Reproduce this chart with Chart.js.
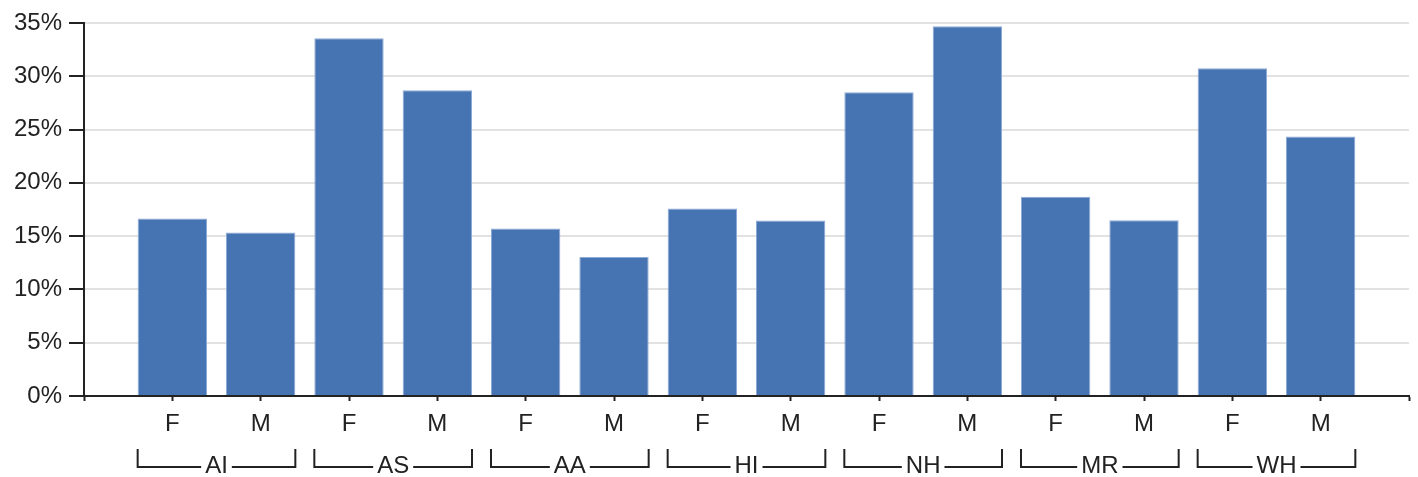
<!DOCTYPE html>
<html>
<head>
<meta charset="utf-8">
<script src="https://cdn.jsdelivr.net/npm/chart.js@4"></script>
<style>
  html, body { margin: 0; padding: 0; background: #fff; }
  canvas { display: block; }
</style>
</head>
<body>
<canvas id="chart" width="1418" height="477"></canvas>
<script>
// groups and the F/M pair inside each one
const groups = ["AI", "AS", "AA", "HI", "NH", "MR", "WH"];
const sexes = ["F", "M"];
// percent values, F then M for each group
const values = [16.65, 15.34, 33.57, 28.7, 15.71, 13.05, 17.59, 16.47, 28.5, 34.7, 18.7, 16.5, 30.75, 24.36];
const yTicks = [0, 5, 10, 15, 20, 25, 30, 35];

const FONT = "'Liberation Sans', Arial, sans-serif";
const INK = "#222";

// empty slot on each end so the axis runs past the first and last bar
const labels = [""];
const data = [null];
groups.forEach((g, gi) => {
  sexes.forEach((s, si) => {
    labels.push(s);
    data.push(values[gi * sexes.length + si]);
  });
});
labels.push("");
data.push(null);

// brackets with the group name under each F/M pair
const groupBrackets = {
  id: "groupBrackets",
  afterDraw(chart) {
    const ctx = chart.ctx;
    const bars = chart.getDatasetMeta(0).data;
    const yTop = 449, yBot = 467;
    ctx.save();
    ctx.strokeStyle = INK;
    ctx.lineWidth = 2;
    ctx.fillStyle = INK;
    ctx.font = "24px " + FONT;
    ctx.textAlign = "center";
    ctx.textBaseline = "middle";
    groups.forEach((g, gi) => {
      const first = bars[1 + gi * 2];
      const last = bars[2 + gi * 2];
      const x1 = first.x - first.width / 2;
      const x2 = last.x + last.width / 2;
      const mid = (first.x + last.x) / 2;
      const half = ctx.measureText(g).width / 2 + 4;
      ctx.beginPath();
      ctx.moveTo(x1, yTop);
      ctx.lineTo(x1, yBot);
      ctx.lineTo(mid - half, yBot);
      ctx.moveTo(mid + half, yBot);
      ctx.lineTo(x2, yBot);
      ctx.lineTo(x2, yTop);
      ctx.stroke();
      ctx.fillText(g, mid, 466);
    });
    ctx.restore();
  }
};

new Chart(document.getElementById("chart"), {
  type: "bar",
  data: {
    labels: labels,
    datasets: [{
      data: data,
      backgroundColor: "#4674b2",
      borderColor: "#8eaad6",
      borderWidth: 1,
      barPercentage: 0.785,
      categoryPercentage: 1
    }]
  },
  options: {
    responsive: false,
    animation: false,
    devicePixelRatio: 1,
    layout: { padding: { top: 23, right: 7, left: 0, bottom: 0 } },
    plugins: {
      legend: { display: false },
      tooltip: { enabled: false }
    },
    scales: {
      x: {
        offset: false,
        afterFit(scale) { scale.height = 81; },
        grid: {
          offset: false,
          drawOnChartArea: false,
          drawTicks: true,
          tickLength: 5,
          tickWidth: 2,
          tickColor: INK
        },
        border: { color: INK, width: 2 },
        ticks: {
          color: INK,
          font: { family: FONT, size: 24 },
          padding: 9,
          maxRotation: 0,
          autoSkip: false
        }
      },
      y: {
        min: yTicks[0],
        max: yTicks[yTicks.length - 1],
        afterFit(scale) { scale.width = 84; },
        afterBuildTicks(scale) { scale.ticks = yTicks.map(v => ({ value: v })); },
        grid: {
          color: "#e2e2e2",
          lineWidth: 2,
          tickLength: 15,
          tickWidth: 2,
          tickColor: INK
        },
        border: { color: INK, width: 2 },
        ticks: {
          color: INK,
          font: { family: FONT, size: 24 },
          padding: 7,
          callback: v => v + "%"
        }
      }
    }
  },
  plugins: [groupBrackets]
});
</script>
</body>
</html>
